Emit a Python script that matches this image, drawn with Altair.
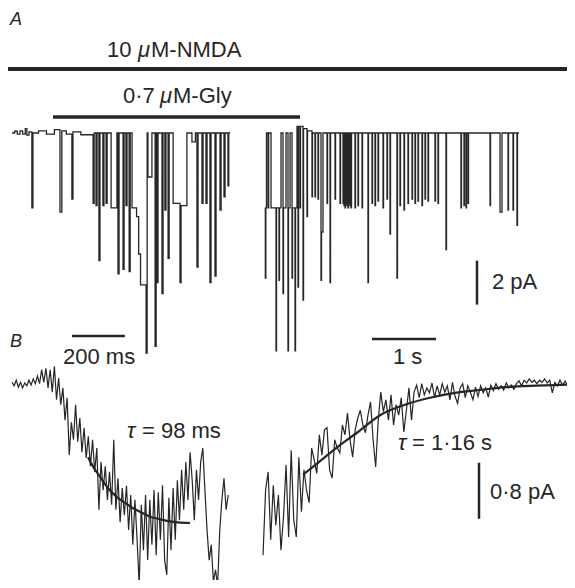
import altair as alt
import pandas as pd

# ---------------- data ----------------
# Panel A, onset of glycine (200 ms time base): change points (ms, pA)
a_onset = [(0, 0), (10, 0.08), (20, -0.05), (30, 0.1), (40, -0.05), (50, 0.2), (56, -0.1), (64, 0.05),
           (75, -3.4), (79, 0), (100, 0.1), (130, -0.05), (160, 0.15), (181, -3.6), (188, 0.1),
           (205, -0.05), (226, -3.0), (230, 0.05), (260, -0.08), (306, -3.2), (310, 0),
           (317, -3.3), (321, 0), (328, -5.8), (332, 0), (343, -3.3), (347, 0), (355, -3.2), (359, 0),
           (374, -3.4), (396, 0), (400, -6.4), (404, 0), (419, -6.2), (423, 0), (430, -3.3), (434, 0),
           (442, -6.3), (446, 0), (453, -3.4), (470, -3.8), (478, -5.5), (485, -6.9), (506, -10.0),
           (510, 0), (513, -2.0), (528, 0), (540, -9.7), (544, 0), (547, -6.8), (551, 0),
           (566, -7.3), (570, 0), (577, -3.5), (581, 0), (589, -5.7), (593, 0), (608, -3.2),
           (634, -6.8), (638, -3.3), (660, 0), (679, -0.4), (692, 0), (698, -6.1), (702, 0),
           (717, -3.2), (721, 0), (732, -3.2), (736, 0), (747, -6.8), (751, 0), (766, -6.5), (770, 0),
           (785, -3.5), (789, 0), (800, -2.9), (804, 0), (815, -2.4), (818, 0), (823, 0)]

# Panel A, after glycine removal (1 s time base): change points (ms, pA)
a_offset = [(47, -3.4), (52, -6.6), (60, -3.4), (70, 0), (94, -3.4), (104, 0), (141, -3.4),
            (219, -9.9), (227, -3.4), (266, -6.7), (273, -3.4), (297, 0), (328, -7.3), (336, -3.4),
            (375, 0), (406, -9.9), (414, -3.4), (438, 0), (469, -6.6), (477, -3.4), (516, -9.9),
            (524, -3.4), (547, 0.3), (563, -7.0), (571, 0.3), (594, -3.4), (602, 0.3), (641, -7.6),
            (649, 0.2), (703, -3.8), (711, 0.1), (781, -2.9), (789, 0), (828, -2.9), (836, 0),
            (875, -3.0), (883, 0), (922, -6.7), (930, -4.5), (953, 0), (1016, -3.2), (1024, 0),
            (1063, -6.8), (1071, 0), (1141, -3.0), (1149, 0), (1219, -3.2), (1227, 0),
            (1266, -3.2), (1274, 0), (1281, -3.3), (1289, 0), (1297, -3.4), (1305, 0),
            (1313, -3.2), (1321, 0), (1328, -3.3), (1336, 0), (1344, -3.4), (1352, 0),
            (1359, -3.2), (1367, 0), (1375, -3.3), (1383, 0), (1391, -3.4), (1399, 0),
            (1453, -3.4), (1461, 0), (1500, -3.3), (1508, 0), (1563, -3.4), (1571, 0),
            (1656, -6.8), (1664, 0), (1719, -3.2), (1727, 0), (1766, -3.3), (1774, 0),
            (1813, -3.1), (1821, 0), (1891, -3.4), (1899, 0), (1953, -3.0), (1961, 0),
            (2000, -4.6), (2008, 0), (2109, -6.6), (2117, 0), (2156, -3.3), (2164, 0),
            (2219, -3.5), (2227, 0), (2281, -3.2), (2289, 0), (2344, -3.0), (2352, 0),
            (2391, -3.2), (2399, 0), (2438, -3.1), (2446, 0), (2500, -3.3), (2508, 0),
            (2547, -3.0), (2555, 0), (2594, -3.1), (2602, 0), (2703, -3.1), (2711, 0),
            (2750, -3.2), (2758, 0), (2875, -5.3), (2883, 0), (3109, -3.4), (3117, 0),
            (3156, -3.3), (3164, 0), (3188, -3.4), (3196, 0), (3219, -3.2), (3227, 0),
            (3563, -3.3), (3571, 0), (3719, -3.6), (3750, 0), (3844, -3.5), (3852, 0),
            (3922, -3.5), (3930, 0), (3984, -4.2), (3992, 0), (4016, 0)]

# Panel B, averaged onset current (pA), one reading every 8 ms
b_onset = [0.01, -0.04, 0.04, -0.06, 0.01, -0.07, 0, -0.04, 0.04, -0.03, 0.06, -0.01, 0.1, -0.01,
           0.19, 0.01, 0.21, -0.07, 0.19, -0.13, 0.24, -0.24, 0.07, -0.31, -0.07, -0.53, -0.21,
           -1.03, -0.56, -0.81, -0.31, -0.84, -0.5, -0.99, -0.64, -1.07, -0.76, -1.19, -0.81,
           -1.27, -0.93, -1.81, -1.13, -1.53, -1.19, -1.67, -1.27, -1.74, -0.81, -1.81, -1.36,
           -1.99, -1.5, -1.89, -1.47, -2.1, -1.6, -2.31, -1.67, -2.24, -2.89, -1.74, -2.39, -1.6,
           -2.53, -1.67, -2.31, -1.53, -2.46, -1.56, -2.24, -1.46, -2.53, -2.74, -1.64, -2.39,
           -1.5, -2.24, -1.39, -1.96, -1.24, -1.81, -1.13, -1.67, -0.99, -1.39, -1.96, -1.24,
           -1.67, -1.13, -0.93, -1.53, -2.1, -2.53, -2.31, -2.84, -2.67, -2.89, -2.1, -1.67,
           -1.36, -1.81, -1.6]
b_onset_step_ms = 8

# Panel B, averaged offset current (pA), one reading every 40 ms starting at 16 ms
b_offset = [-2.46, -1.53, -1.27, -2.24, -1.46, -2.03, -1.6, -2.39, -1.91, -1.17, -2.2, -0.96,
            -1.96, -2.2, -1.06, -1.84, -1.24, -1.53, -1.71, -0.93, -1.1, -1.29, -0.74, -1.03,
            -0.67, -0.64, -1.24, -1.36, -0.81, -0.93, -1.0, -0.6, -0.74, -0.43, -0.81, -1.06,
            -0.67, -0.5, -0.39, -0.6, -0.71, -0.46, -0.27, -0.81, -1.2, -0.53, -0.13, -0.41,
            -0.24, -0.53, -0.17, -0.6, -0.31, -0.46, -0.21, -0.7, -0.39, -0.07, -0.53, -0.13,
            -0.03, -0.21, -0.01, -0.17, -0.07, -0.14, 0, -0.21, -0.04, -0.17, -0.01, -0.13,
            -0.04, -0.24, 0.01, -0.19, -0.29, -0.07, -0.01, -0.21, -0.04, -0.13, -0.24, -0.06,
            -0.19, -0.04, -0.14, -0.07, -0.2, -0.03, -0.11, -0.01, -0.09, -0.04, -0.1, 0, -0.07,
            -0.03, -0.09, -0.01, 0.03, -0.04, 0.04, 0, 0.06, 0.01, 0.04, -0.01, 0.04, 0.01, 0.06,
            0, 0.04, -0.14, 0.01, -0.04, 0.04, -0.03, 0.03, -0.04, 0.01, -0.03, 0]
b_offset_start_ms = 16
b_offset_step_ms = 40

# single-exponential fits as drawn (ms, pA)
fit_onset = [(287, -1.06), (302, -1.17), (332, -1.34), (362, -1.5), (396, -1.63), (426, -1.71),
             (457, -1.79), (483, -1.84), (521, -1.91), (551, -1.94), (585, -1.97), (626, -1.99),
             (672, -2.0)]
fit_offset = [(641, -1.31), (875, -1.14), (1188, -0.91), (1500, -0.7), (1844, -0.46),
              (2234, -0.31), (2625, -0.21), (3016, -0.14), (3406, -0.1), (3797, -0.06),
              (4188, -0.04), (4578, -0.03), (4891, -0.02)]

# calibration bars
bar_fast_ms = [226, 426]     # 200 ms
bar_slow_ms = [1719, 2719]   # 1 s
bar_a_pA = [-5.8, -7.8]      # 2 pA
bar_b_pA = [-1.14, -1.94]    # 0.8 pA

# ---------------- scales ----------------
X_FAST = alt.Scale(domain=[0, 800], range=[4, 216], nice=False, zero=False)
X_SLOW = alt.Scale(domain=[0, 4000], range=[254, 510], nice=False, zero=False)
Y_A = alt.Scale(domain=[0, -10], range=[125, 345], nice=False, zero=False)
Y_B = alt.Scale(domain=[0, -3], range=[375, 585], nice=False, zero=False)

INK = "#262626"
FONT = "Liberation Sans"
FS = 22


def pairs_df(pairs):
    return pd.DataFrame(pairs, columns=["t", "i"])


def trace(df, xs, ys, width, interp):
    return alt.Chart(df).mark_line(color=INK, strokeWidth=width, interpolate=interp).encode(
        x=alt.X("t:Q", scale=xs, axis=None),
        y=alt.Y("i:Q", scale=ys, axis=None),
    )


b_on_df = pd.DataFrame({"t": [k * b_onset_step_ms for k in range(len(b_onset))], "i": b_onset})
b_off_df = pd.DataFrame({"t": [b_offset_start_ms + k * b_offset_step_ms for k in range(len(b_offset))],
                         "i": b_offset})

layers = [
    trace(pairs_df(a_onset), X_FAST, Y_A, 1.3, "step-after"),
    trace(pairs_df(a_offset), X_SLOW, Y_A, 1.3, "step-after"),
    trace(b_on_df, X_FAST, Y_B, 1.2, "linear"),
    trace(b_off_df, X_SLOW, Y_B, 1.2, "linear"),
    trace(pairs_df(fit_onset), X_FAST, Y_B, 2.2, "monotone"),
    trace(pairs_df(fit_offset), X_SLOW, Y_B, 2.2, "monotone"),
]

# time calibration bars
layers.append(alt.Chart(pd.DataFrame({"a": [bar_fast_ms[0]], "b": [bar_fast_ms[1]]})).mark_rule(
    color=INK, strokeWidth=2.5).encode(x=alt.X("a:Q", scale=X_FAST, axis=None), x2="b:Q", y=alt.value(328)))
layers.append(alt.Chart(pd.DataFrame({"a": [bar_slow_ms[0]], "b": [bar_slow_ms[1]]})).mark_rule(
    color=INK, strokeWidth=2.5).encode(x=alt.X("a:Q", scale=X_SLOW, axis=None), x2="b:Q", y=alt.value(331)))
# current calibration bars
layers.append(alt.Chart(pd.DataFrame({"a": [bar_a_pA[0]], "b": [bar_a_pA[1]]})).mark_rule(
    color=INK, strokeWidth=2.5).encode(y=alt.Y("a:Q", scale=Y_A, axis=None), y2="b:Q", x=alt.value(469)))
layers.append(alt.Chart(pd.DataFrame({"a": [bar_b_pA[0]], "b": [bar_b_pA[1]]})).mark_rule(
    color=INK, strokeWidth=2.5).encode(y=alt.Y("a:Q", scale=Y_B, axis=None), y2="b:Q", x=alt.value(471)))

# drug application bars
layers.append(alt.Chart(pd.DataFrame({"k": [0]})).mark_rule(color=INK, strokeWidth=4).encode(
    x=alt.value(0), x2=alt.value(567), y=alt.value(61)))
layers.append(alt.Chart(pd.DataFrame({"k": [0]})).mark_rule(color=INK, strokeWidth=3.5).encode(
    x=alt.value(45), x2=alt.value(292), y=alt.value(109)))


def label(txt, x, y, size=FS, style="normal"):
    return alt.Chart(pd.DataFrame({"s": [txt]})).mark_text(
        align="left", baseline="alphabetic", font=FONT, fontSize=size, fontStyle=style, color=INK
    ).encode(text="s:N", x=alt.value(x), y=alt.value(y))


layers += [
    label("A", 2, 17, 18, "italic"),
    label("10 ", 99, 49),
    label("\u03bc", 130, 49, style="italic"),
    label("M-NMDA", 143, 49),
    label("0\u00b77 ", 115, 95),
    label("\u03bc", 152, 95, style="italic"),
    label("M-Gly", 165, 95),
    label("2 pA", 484, 281),
    label("B", 2, 339, 18, "italic"),
    label("200 ms", 55, 356),
    label("1 s", 385, 356),
    label("\u03c4", 119, 430, style="italic"),
    label("= 98 ms", 134, 430),
    label("\u03c4", 390, 442, style="italic"),
    label("= 1\u00b716 s", 404, 442),
    label("0\u00b78 pA", 482, 491),
]

chart = alt.layer(*layers).resolve_scale(x="independent", y="independent").properties(
    width=559, height=572, autosize=alt.AutoSizeParams(type="none"), padding=0,
    background="white",
).configure_view(stroke=None)

chart.save("out.html", embed_options={"renderer": "svg", "actions": False})
